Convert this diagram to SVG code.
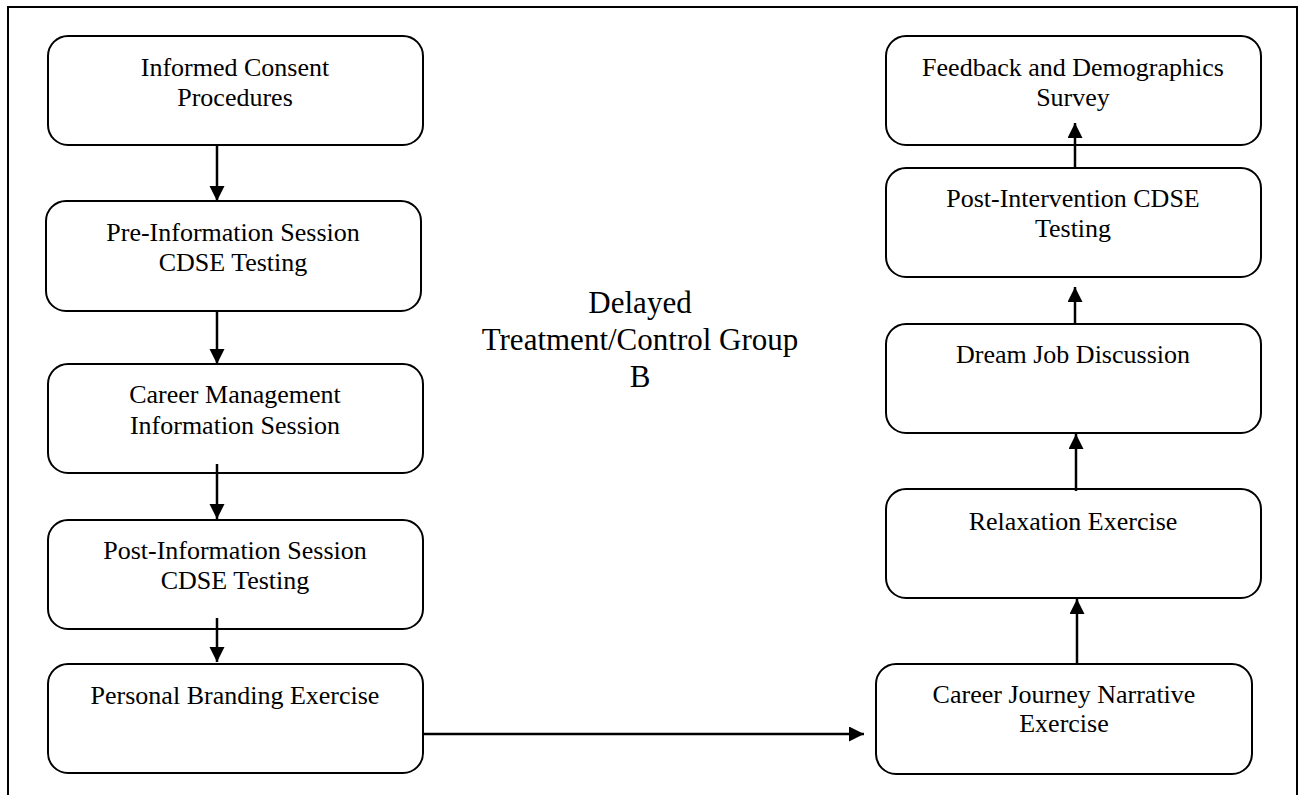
<svg xmlns="http://www.w3.org/2000/svg" width="1306" height="795" viewBox="0 0 1306 795">
<defs>
<style>
.box{fill:#fff;stroke:#000;stroke-width:2}
.t{font-family:"Liberation Serif","Times New Roman",serif;font-size:26px;fill:#000;text-anchor:middle}
.c{font-family:"Liberation Serif","Times New Roman",serif;font-size:31px;fill:#000;text-anchor:middle}
.e{stroke:#000;stroke-width:2.5;fill:none;marker-end:url(#ah)}
</style>
<marker id="ah" markerUnits="userSpaceOnUse" markerWidth="16" markerHeight="16" refX="15" refY="7.5" orient="auto">
<path d="M0,0 L15,7.5 L0,15 z" fill="#000"/>
</marker>
</defs>
<rect x="0" y="0" width="1306" height="795" fill="#fff"/>
<rect id="frame" x="8" y="7" width="1289" height="800" fill="none" stroke="#000" stroke-width="2"/>

<g id="n1"><rect class="box" x="48" y="36" width="375" height="109" rx="20"/><text class="t" x="235" y="76">Informed Consent</text><text class="t" x="235" y="106">Procedures</text></g>
<g id="n2"><rect class="box" x="46" y="201" width="375" height="110" rx="20"/><text class="t" x="233" y="241">Pre-Information Session</text><text class="t" x="233" y="271">CDSE Testing</text></g>
<g id="n3"><rect class="box" x="48" y="364" width="375" height="109" rx="20"/><text class="t" x="235" y="403">Career Management</text><text class="t" x="235" y="434">Information Session</text></g>
<g id="n4"><rect class="box" x="48" y="520" width="375" height="109" rx="20"/><text class="t" x="235" y="559">Post-Information Session</text><text class="t" x="235" y="589">CDSE Testing</text></g>
<g id="n5"><rect class="box" x="48" y="664" width="375" height="109" rx="20"/><text class="t" x="235" y="704">Personal Branding Exercise</text></g>

<g id="n6"><rect class="box" x="886" y="36" width="375" height="109" rx="20"/><text class="t" x="1073" y="76">Feedback and Demographics</text><text class="t" x="1073" y="106">Survey</text></g>
<g id="n7"><rect class="box" x="886" y="168" width="375" height="109" rx="20"/><text class="t" x="1073" y="207">Post-Intervention CDSE</text><text class="t" x="1073" y="237">Testing</text></g>
<g id="n8"><rect class="box" x="886" y="324" width="375" height="109" rx="20"/><text class="t" x="1073" y="363">Dream Job Discussion</text></g>
<g id="n9"><rect class="box" x="886" y="489" width="375" height="109" rx="20"/><text class="t" x="1073" y="530">Relaxation Exercise</text></g>
<g id="n10"><rect class="box" x="876" y="664" width="376" height="110" rx="20"/><text class="t" x="1064" y="703">Career Journey Narrative</text><text class="t" x="1064" y="732">Exercise</text></g>

<g id="label"><text class="c" x="640" y="313">Delayed</text><text class="c" x="640" y="350">Treatment/Control Group</text><text class="c" x="640" y="387">B</text></g>

<g id="connectors">
<line class="e" x1="217" y1="145" x2="217" y2="201"/>
<line class="e" x1="217" y1="311" x2="217" y2="364"/>
<line class="e" x1="217" y1="464" x2="217" y2="519"/>
<line class="e" x1="217" y1="618" x2="217" y2="662"/>
<line class="e" x1="423" y1="734" x2="864" y2="734"/>
<line class="e" x1="1077" y1="664" x2="1077" y2="599"/>
<line class="e" x1="1076" y1="491" x2="1076" y2="434"/>
<line class="e" x1="1075" y1="324" x2="1075" y2="287"/>
<line class="e" x1="1075" y1="168" x2="1075" y2="123"/>
</g>
</svg>
